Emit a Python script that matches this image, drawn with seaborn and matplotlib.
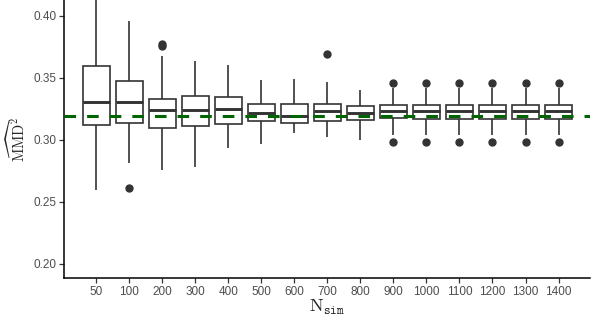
import matplotlib
matplotlib.use("Agg")
import matplotlib.pyplot as plt
import seaborn as sns
import pandas as pd

# box summaries
n_sim = [50, 100, 200, 300, 400, 500, 600, 700, 800, 900, 1000, 1100, 1200, 1300, 1400]
q1 = [0.3120, 0.3138, 0.3093, 0.3109, 0.3128, 0.3152, 0.3136, 0.3149, 0.3160,
      0.3174, 0.3170, 0.3170, 0.3170, 0.3170, 0.3170]
med = [0.3308, 0.3305, 0.3241, 0.3241, 0.3245, 0.3219, 0.3195, 0.3230, 0.3219,
       0.3232, 0.3233, 0.3233, 0.3233, 0.3233, 0.3233]
q3 = [0.3594, 0.3477, 0.3332, 0.3354, 0.3348, 0.3289, 0.3291, 0.3289, 0.3273,
      0.3279, 0.3280, 0.3280, 0.3280, 0.3280, 0.3280]
whis_lo = [0.2595, 0.2815, 0.2756, 0.2778, 0.2931, 0.2966, 0.3052, 0.3025, 0.2998,
           0.3039, 0.3040, 0.3040, 0.3040, 0.3040, 0.3040]
whis_hi = [0.4250, 0.3962, 0.3677, 0.3639, 0.3604, 0.3483, 0.3489, 0.3467, 0.3400,
           0.3416, 0.3420, 0.3420, 0.3420, 0.3420, 0.3420]
outliers = {
    100: [0.2613],
    200: [0.3757, 0.3775],
    700: [0.3690],
    900: [0.2980, 0.3456],
    1000: [0.2980, 0.3456],
    1100: [0.2980, 0.3456],
    1200: [0.2980, 0.3456],
    1300: [0.2980, 0.3456],
    1400: [0.2980, 0.3456],
}
mmd_true = 0.3195

# expand each summary into values whose quartiles/whiskers reproduce it
rows = []
for i, n in enumerate(n_sim):
    vals = [whis_lo[i]] + [q1[i]] * 5 + [med[i]] * 5 + [q3[i]] * 5 + [whis_hi[i]]
    vals += outliers.get(n, [])
    for v in vals:
        rows.append({"N_sim": str(n), "mmd": v})
df = pd.DataFrame(rows)

sns.set_theme(style="ticks")
plt.rcParams["font.family"] = ["Liberation Sans", "DejaVu Sans"]
plt.rcParams["mathtext.fontset"] = "cm"

fig = plt.figure(figsize=(5.98, 3.19), dpi=100)
ax = fig.add_axes([0.1075, 0.1285, 0.8795, 0.8715])

dark = "#333333"
sns.boxplot(
    data=df, x="N_sim", y="mmd", order=[str(n) for n in n_sim],
    color="white", linecolor=dark, linewidth=1.2, width=0.8,
    showcaps=False, fliersize=5,
    flierprops={"marker": "o", "markerfacecolor": dark, "markeredgecolor": dark},
    medianprops={"linewidth": 2.1, "color": dark},
    ax=ax,
)
ax.axhline(mmd_true, color="#006400", linewidth=2.2, linestyle=(0, (3.8, 3.6)), zorder=5)

ax.set_xlim(-0.97, 14.96)
ax.set_ylim(0.1884, 0.4129)
ax.set_yticks([0.20, 0.25, 0.30, 0.35, 0.40])
ax.set_yticklabels(["0.20", "0.25", "0.30", "0.35", "0.40"])
ax.tick_params(axis="both", labelsize=8.5, labelcolor="#4D4D4D", color=dark,
               length=3.5, width=0.9, pad=2)
for side in ["top", "right"]:
    ax.spines[side].set_visible(False)
for side in ["left", "bottom"]:
    ax.spines[side].set_color("black")
    ax.spines[side].set_linewidth(1.1)

ax.set_xlabel(r"$\mathrm{N}_{\mathtt{sim}}$", fontsize=13, labelpad=0)
ax.set_ylabel(r"$\widehat{\mathrm{MMD}}^2$", fontsize=10.5, labelpad=4)

fig.savefig("out.png", dpi=100)
